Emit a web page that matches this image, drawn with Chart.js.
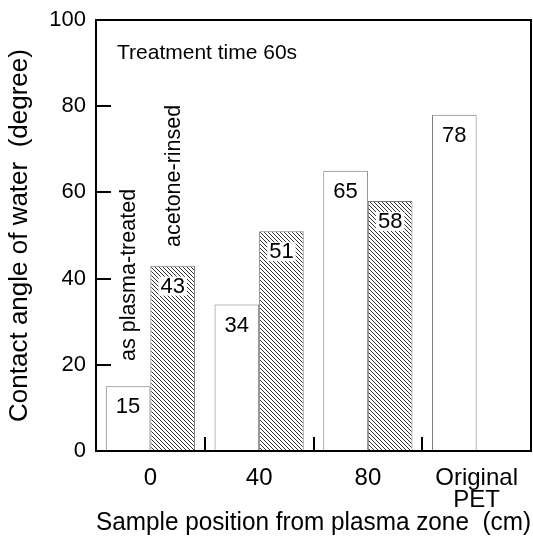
<!DOCTYPE html>
<html>
<head>
<meta charset="utf-8">
<script src="https://cdn.jsdelivr.net/npm/chart.js@4.4.0/dist/chart.umd.min.js"></script>
<style>
  html, body { margin: 0; padding: 0; background: #fff; }
</style>
</head>
<body>
<canvas id="chart" width="533" height="538"></canvas>
<script>
// data
const positions = ['0', '40', '80', ['Original', 'PET']];
const asTreated = [15, 34, 65, 78];
const acetoneRinsed = [43, 51, 58, null];
const yTicks = [0, 20, 40, 60, 80, 100];

const FONT = 'Liberation Sans, Arial, Helvetica, sans-serif';

function hatchPattern(ctx) {
    const p = document.createElement('canvas');
    p.width = 4; p.height = 4;
    const g = p.getContext('2d');
    g.fillStyle = '#fff';
    g.fillRect(0, 0, 4, 4);
    g.strokeStyle = '#333';
    g.lineWidth = 1;
    g.beginPath();
    g.moveTo(-1, -1); g.lineTo(5, 5);
    g.moveTo(-1, 3); g.lineTo(1, 5);
    g.moveTo(3, -1); g.lineTo(5, 1);
    g.stroke();
    return ctx.createPattern(p, 'repeat');
}

// frame, inward ticks, group separators, value labels and notes
const decorations = {
    id: 'decorations',
    afterDatasetsDraw(chart) {
        const ctx = chart.ctx;
        const area = chart.chartArea;
        const x = chart.scales.x, y = chart.scales.y;
        ctx.save();
        ctx.strokeStyle = '#000';
        ctx.lineWidth = 2;
        ctx.strokeRect(area.left, area.top, area.right - area.left, area.bottom - area.top);

        ctx.beginPath();
        yTicks.forEach(v => {
            if (v === 0 || v === 100) return;
            const py = Math.round(y.getPixelForValue(v));
            ctx.moveTo(area.left, py);
            ctx.lineTo(area.left + 15, py);
        });
        for (let i = 0; i < positions.length - 1; i++) {
            const px = Math.round((x.getPixelForValue(i) + x.getPixelForValue(i + 1)) / 2);
            ctx.moveTo(px, area.bottom);
            ctx.lineTo(px, area.bottom - 14);
        }
        ctx.stroke();

        ctx.font = '22px ' + FONT;
        ctx.textAlign = 'center';
        ctx.textBaseline = 'middle';
        chart.data.datasets.forEach((ds, i) => {
            const meta = chart.getDatasetMeta(i);
            meta.data.forEach((bar, j) => {
                const v = ds.data[j];
                if (v === null || v === undefined) return;
                const tx = bar.x, ty = bar.y + 20;
                if (i === 1) {
                    const w = ctx.measureText(String(v)).width + 4;
                    ctx.fillStyle = '#fff';
                    ctx.fillRect(tx - w / 2, ty - 9, w, 19);
                }
                ctx.fillStyle = '#000';
                ctx.fillText(String(v), tx, ty + 1);
            });
        });

        ctx.font = '21px ' + FONT;
        ctx.textAlign = 'left';
        ctx.fillText('Treatment time 60s', 117, 53);

        ctx.font = '21.5px ' + FONT;
        ctx.save();
        ctx.translate(129, 361);
        ctx.rotate(-Math.PI / 2);
        ctx.fillText('as plasma-treated', 0, 0);
        ctx.restore();
        ctx.save();
        ctx.translate(174, 247);
        ctx.rotate(-Math.PI / 2);
        ctx.fillText('acetone-rinsed', 0, 0);
        ctx.restore();
        ctx.restore();
    }
};

const canvas = document.getElementById('chart');
const ctx = canvas.getContext('2d');

new Chart(ctx, {
    type: 'bar',
    data: {
        labels: positions,
        datasets: [
            {
                label: 'as plasma-treated',
                data: asTreated,
                backgroundColor: '#fff',
                borderColor: '#777',
                borderWidth: 1,
                categoryPercentage: 0.82,
                barPercentage: 1.0
            },
            {
                label: 'acetone-rinsed',
                data: acetoneRinsed,
                backgroundColor: hatchPattern(ctx),
                borderColor: '#777',
                borderWidth: 1,
                categoryPercentage: 0.82,
                barPercentage: 1.0
            }
        ]
    },
    options: {
        responsive: false,
        animation: false,
        layout: { padding: { top: 20, right: 2, left: 0, bottom: 0 } },
        plugins: {
            legend: { display: false },
            tooltip: { enabled: false }
        },
        scales: {
            x: {
                grid: { display: false },
                border: { display: false },
                ticks: {
                    color: '#000',
                    padding: 8,
                    font: { family: FONT, size: 24, lineHeight: 0.92 },
                    maxRotation: 0
                },
                title: {
                    display: true,
                    text: 'Sample position from plasma zone  (cm)',
                    align: 'end',
                    color: '#000',
                    font: { family: FONT, size: 25 },
                    padding: { top: 0, bottom: 0 }
                },
                afterFit: s => { s.height = 87; }
            },
            y: {
                min: 0,
                max: 100,
                grid: { display: false },
                border: { display: false },
                afterBuildTicks: s => { s.ticks = yTicks.map(v => ({ value: v })); },
                ticks: {
                    color: '#000',
                    padding: 2,
                    font: { family: FONT, size: 22 }
                },
                title: {
                    display: true,
                    text: 'Contact angle of water  (degree)',
                    color: '#000',
                    font: { family: FONT, size: 26 },
                    padding: { top: 4, bottom: 4 }
                },
                afterFit: s => { s.width = 96; }
            }
        }
    },
    plugins: [decorations]
});
</script>
</body>
</html>
